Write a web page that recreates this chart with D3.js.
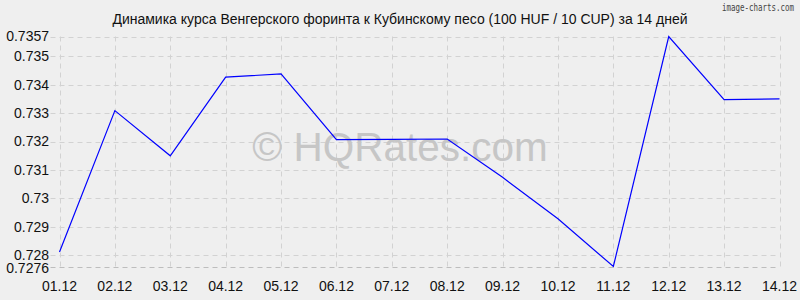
<!DOCTYPE html>
<html>
<head>
<meta charset="utf-8">
<script src="https://cdn.jsdelivr.net/npm/d3@7"></script>
<style>
  body { margin: 0; background: #efefef; }
  svg { display: block; font-family: "Liberation Sans", Arial, sans-serif; }
</style>
</head>
<body>
<svg id="chart" width="800" height="300"></svg>
<script>
// data
const dates = ['01.12', '02.12', '03.12', '04.12', '05.12', '06.12', '07.12',
  '08.12', '09.12', '10.12', '11.12', '12.12', '13.12', '14.12'];
const rates = [0.72811, 0.73309, 0.7315, 0.73427, 0.73438, 0.73207, 0.73208,
  0.73209, 0.73074, 0.72928, 0.7276, 0.7357, 0.73348, 0.7335];
const yTicks = [0.7276, 0.728, 0.729, 0.73, 0.731, 0.732, 0.733, 0.734, 0.735, 0.7357];
const title = 'Динамика курса Венгерского форинта к Кубинскому песо (100 HUF / 10 CUP) за 14 дней';

let svg = d3.select('#chart');
let width = 800, height = 300;
let margin = { left: 59.5, right: 20.5, top: 36.5, bottom: 34 };

let x = d3.scalePoint()
  .domain(dates)
  .range([margin.left, width - margin.right]);

let y = d3.scaleLinear()
  .domain([d3.min(yTicks), d3.max(yTicks)])
  .range([height - margin.bottom + 0.5, margin.top]);

svg.append('rect')
  .attr('width', width)
  .attr('height', height)
  .attr('fill', '#efefef');

//grid lines
let grid = svg.append('g').attr('class', 'grid');

grid.selectAll('.hline')
  .data(yTicks)
  .enter().append('line')
  .attr('x1', margin.left - 9)
  .attr('x2', width - margin.right)
  .attr('y1', (d) => Math.round(y(d)) + 0.5)
  .attr('y2', (d) => Math.round(y(d)) + 0.5)
  .attr('stroke', (d, i) => i === 0 ? '#bdbdbd' : '#d2d2d2')
  .attr('stroke-dasharray', '5,4');

grid.selectAll('.vline')
  .data(dates)
  .enter().append('line')
  .attr('x1', (d) => Math.round(x(d)) + 0.5)
  .attr('x2', (d) => Math.round(x(d)) + 0.5)
  .attr('y1', margin.top)
  .attr('y2', y(yTicks[0]) + 4)
  .attr('stroke', '#d2d2d2')
  .attr('stroke-dasharray', '5,4');

//watermark
svg.append('text')
  .attr('x', 400)
  .attr('y', 161)
  .attr('text-anchor', 'middle')
  .style('font-size', '40.5px')
  .style('fill', '#c6c6c6')
  .text('© HQRates.com');

//line
let line = d3.line()
  .x((d, i) => x(dates[i]))
  .y((d) => y(d));

svg.append('path')
  .datum(rates)
  .attr('fill', 'none')
  .attr('stroke', '#0000ff')
  .attr('stroke-width', 1.2)
  .attr('d', line);

//y labels
svg.append('g').selectAll('text')
  .data(yTicks)
  .enter().append('text')
  .attr('x', 49)
  .attr('y', (d, i) => y(d) + (i === 0 ? 1.5 : 0))
  .attr('dy', '0.35em')
  .attr('text-anchor', 'end')
  .style('font-size', '14px')
  .style('fill', '#111')
  .text((d) => d);

//x labels
svg.append('g').selectAll('text')
  .data(dates)
  .enter().append('text')
  .attr('x', (d) => x(d))
  .attr('y', 291)
  .attr('text-anchor', 'middle')
  .style('font-size', '14px')
  .style('fill', '#111')
  .text((d) => d);

//title
svg.append('text')
  .attr('x', 400)
  .attr('y', 24)
  .attr('text-anchor', 'middle')
  .style('font-size', '14px')
  .style('fill', '#111')
  .text(title);

svg.append('text')
  .attr('x', 794)
  .attr('y', 11)
  .attr('text-anchor', 'end')
  .attr('textLength', 72)
  .attr('lengthAdjust', 'spacingAndGlyphs')
  .style('font-family', '"DejaVu Sans Mono", monospace')
  .style('font-size', '10px')
  .style('fill', '#444')
  .text('image-charts.com');
</script>
</body>
</html>
